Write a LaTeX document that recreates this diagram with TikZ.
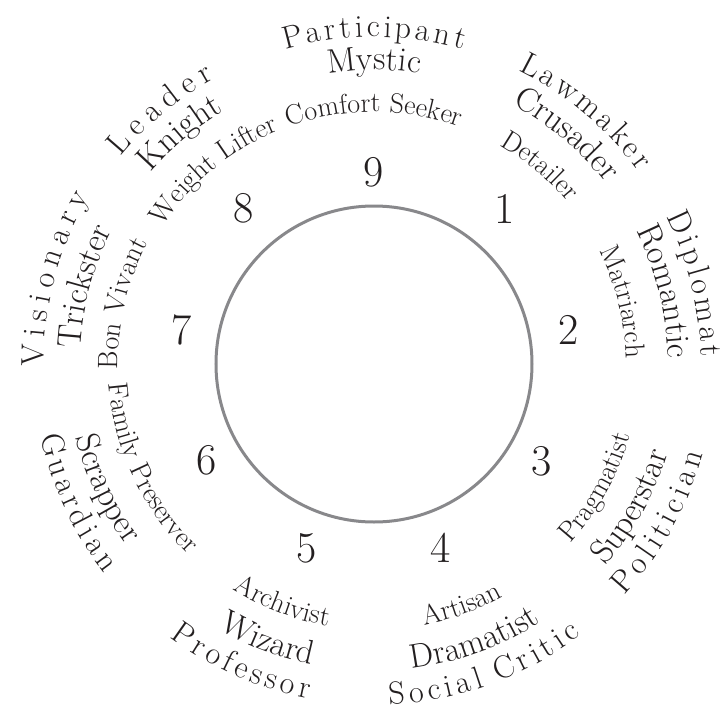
\documentclass[tikz,border=0pt]{standalone}
\usepackage{fontspec}
\setmainfont{Latin Modern Roman}
\usepackage{tikz}
\usetikzlibrary{decorations.text}
\definecolor{ringc}{HTML}{88888B}
\definecolor{inkc}{HTML}{231F20}
\newcommand{\innsz}{\fontsize{28}{28}\selectfont}
\newcommand{\midsz}{\fontsize{34}{34}\selectfont}
\newcommand{\outsz}{\fontsize{32}{32}\selectfont}
% letter gaps for the spaced outer words
\newcommand{\gA}{\kern3.5pt}
\newcommand{\gB}{\kern4.5pt}
\newcommand{\gC}{\kern7pt}
\tikzset{
  ring/.style={draw=ringc,line width=3pt},
  num/.style={font=\fontsize{44}{44}\selectfont,text=inkc,inner sep=0pt}
}
% upper half: runs clockwise, letters face out
\newcommand{\cwtext}[4]{%
  \path[decorate,decoration={text along path,text align=center,text color=inkc,
    text={|#3|#4}}] (#1+70:#2pt) arc[start angle=#1+70,end angle=#1-70,radius=#2pt];}
% lower half: runs counter-clockwise, letters face in
\newcommand{\ccwtext}[4]{%
  \path[decorate,decoration={text along path,text align=center,text color=inkc,
    text={|#3|#4}}] (#1-70:#2pt) arc[start angle=#1-70,end angle=#1+70,radius=#2pt];}

\begin{document}
\begin{tikzpicture}
\useasboundingbox (-374pt,-352pt) rectangle (352pt,364pt);
\coordinate (c) at (0,0);
\draw[ring] (c) circle (158pt);
\foreach \n/\a/\r in {9/90/192,1/50/203,2/10/198,3/-30/194,4/-70/196,5/-110/196,6/-150/193,7/170/195,8/130/203}
  \node[num] (n\n) at (\a:\r pt) {\n};
% nine
\cwtext{90}{327}{\outsz}{P{\gA}a{\gA}r{\gA}t{\gA}i{\gA}c{\gA}i{\gA}p{\gA}a{\gA}n{\gA}t}
\cwtext{90}{294}{\midsz}{Mystic}
\cwtext{90}{252}{\innsz}{Comfort Seeker}
% one
\cwtext{50}{327}{\outsz}{L{\gA}a{\gA}w{\gA}m{\gA}a{\gA}k{\gA}e{\gA}r}
\cwtext{50}{294}{\midsz}{Crusader}
\cwtext{50}{252}{\innsz}{Detailer}
% two
\cwtext{14}{327}{\outsz}{D{\gA}i{\gA}p{\gA}l{\gA}o{\gA}m{\gA}a{\gA}t}
\cwtext{14}{294}{\midsz}{Romantic}
\cwtext{14}{252}{\innsz}{Matriarch}
% three
\ccwtext{-29}{341}{\outsz}{P{\gB}o{\gB}l{\gB}i{\gB}t{\gB}i{\gB}c{\gB}i{\gB}a{\gB}n}
\ccwtext{-29}{307}{\midsz}{Superstar}
\ccwtext{-29}{266}{\innsz}{Pragmatist}
% four
\ccwtext{-70}{341}{\outsz}{S{\gB}o{\gB}c{\gB}i{\gB}a{\gB}l{\gB} C{\gB}r{\gB}i{\gB}t{\gB}i{\gB}c}
\ccwtext{-70}{307}{\midsz}{Dramatist}
\ccwtext{-70}{266}{\innsz}{Artisan}
% five
\ccwtext{-114}{341}{\outsz}{P{\gB}r{\gB}o{\gB}f{\gB}e{\gB}s{\gB}s{\gB}o{\gB}r}
\ccwtext{-111}{307}{\midsz}{Wizard}
\ccwtext{-111}{266}{\innsz}{Archivist}
% six
\ccwtext{-155}{341}{\outsz}{G{\gB}u{\gB}a{\gB}r{\gB}d{\gB}i{\gB}a{\gB}n}
\ccwtext{-155}{307}{\midsz}{Scrapper}
\ccwtext{-155}{266}{\innsz}{Family Preserver}
% seven
\cwtext{165}{330}{\outsz}{V{\gC}i{\gC}s{\gC}i{\gC}o{\gC}n{\gC}a{\gC}r{\gC}y}
\cwtext{165}{294}{\midsz}{Trickster}
\cwtext{166.5}{256}{\innsz}{Bon Vivant}
% eight
\cwtext{130}{327}{\outsz}{L{\gC}e{\gC}a{\gC}d{\gC}e{\gC}r}
\cwtext{130}{294}{\midsz}{Knight}
\cwtext{129.5}{252}{\innsz}{Weight Lifter}
\end{tikzpicture}
\end{document}
